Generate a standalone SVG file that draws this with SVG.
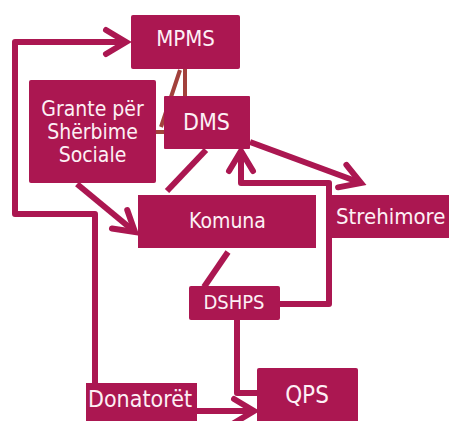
<svg xmlns="http://www.w3.org/2000/svg" width="449" height="421" viewBox="0 0 449 421">
<style>
.box{fill:#ab1751;}
.t{fill:#fdf0f5;font-family:"DejaVu Sans Condensed","DejaVu Sans",sans-serif;font-stretch:condensed;text-anchor:middle;}
.c{fill:none;stroke:#ab1751;stroke-width:6;stroke-linejoin:round;}
.br{fill:none;stroke:#a2413c;stroke-width:4;}
</style>
<defs>
<marker id="ah" markerUnits="userSpaceOnUse" viewBox="-26 -18 32 36" markerWidth="32" markerHeight="36" refX="0" refY="0" orient="auto">
<path d="M-20,-12 L0,0 L-20,12" fill="none" stroke="#ab1751" stroke-width="6" stroke-linecap="round" stroke-linejoin="miter"/>
</marker>
</defs>
<g id="connectors">
<line class="br" x1="185" y1="68" x2="185" y2="97"/>
<line class="br" x1="180" y1="70" x2="161" y2="127"/>
<line class="br" x1="155" y1="132" x2="165" y2="132"/>
<polyline class="c" points="95,384 95,214 15,214 15,42 126,42" marker-end="url(#ah)"/>
<line class="c" x1="77" y1="184" x2="135" y2="232" marker-end="url(#ah)"/>
<line class="c" x1="206" y1="150" x2="167" y2="191"/>
<line class="c" x1="228" y1="252" x2="204" y2="287"/>
<line class="c" x1="250" y1="142" x2="361" y2="183" marker-end="url(#ah)"/>
<polyline class="c" points="280,304 329,304 329,183 241,183 241,151" marker-end="url(#ah)"/>
<polyline class="c" points="237,320 237,393 258,393"/>
<line class="c" x1="197" y1="411" x2="254" y2="411" marker-end="url(#ah)"/>
</g>
<g id="mpms"><rect class="box" x="131" y="15" width="109" height="54" rx="2"/><text class="t" x="185.5" y="46" font-size="22">MPMS</text></g>
<g id="grante"><rect class="box" x="29" y="80" width="127" height="103" rx="2"/>
<text class="t" x="92.5" y="116" font-size="21">Grante për</text>
<text class="t" x="92.5" y="139" font-size="21">Shërbime</text>
<text class="t" x="92.5" y="162" font-size="21">Sociale</text></g>
<g id="dms"><rect class="box" x="164" y="96" width="86" height="53" rx="1"/><text class="t" x="206.5" y="130" font-size="23">DMS</text></g>
<g id="komuna"><rect class="box" x="138" y="195" width="178" height="53"/><text class="t" x="227.5" y="228" font-size="21">Komuna</text></g>
<g id="strehimore"><rect class="box" x="331" y="195" width="130" height="43"/><text class="t" x="336" y="224" font-size="22" style="text-anchor:start">Strehimore</text></g>
<g id="dshps"><rect class="box" x="189" y="286" width="91" height="34" rx="2"/><text class="t" x="234" y="309" font-size="20">DSHPS</text></g>
<g id="qps"><rect class="box" x="257" y="368" width="101" height="60" rx="2"/><text class="t" x="307" y="403" font-size="24">QPS</text></g>
<g id="donatoret"><rect class="box" x="86" y="383" width="111" height="45"/><text class="t" x="88" y="407" font-size="23" style="text-anchor:start">Donatorët</text></g>
</svg>
